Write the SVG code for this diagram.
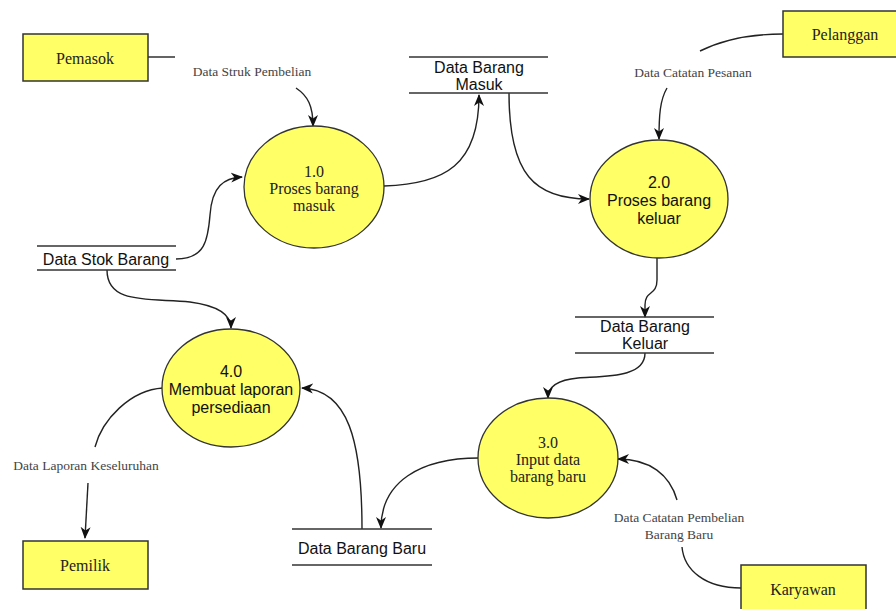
<svg xmlns="http://www.w3.org/2000/svg" width="896" height="609" viewBox="0 0 896 609">
<defs>
<style>
.ent{fill:#ffff66;stroke:#333;stroke-width:1.5}
.proc{fill:#ffff66;stroke:#333;stroke-width:1.3}
.store{stroke:#333;stroke-width:1.3}
.flow{fill:none;stroke:#222;stroke-width:1.4}
.serif{font-family:"Liberation Serif","Times New Roman",serif;fill:#222;text-anchor:middle;dominant-baseline:central}
.sans{font-family:"Liberation Sans",Arial,sans-serif;fill:#111;text-anchor:middle;dominant-baseline:central}
.lbl{font-family:"Liberation Serif","Times New Roman",serif;fill:#444;font-size:13.5px;text-anchor:middle;dominant-baseline:central}
</style>
<marker id="arr" markerWidth="12" markerHeight="12" refX="11" refY="6" orient="auto" markerUnits="userSpaceOnUse">
<path d="M0,1 L12,6 L0,11 L3.5,6 z" fill="#111"/>
</marker>
</defs>
<rect width="896" height="609" fill="#fff"/>

<g id="connectors">
<path class="flow" d="M148,57 L175,57"/>
<path class="flow" d="M296,88 C308,96 313,106 313,126" marker-end="url(#arr)"/>
<path class="flow" d="M384,186 C445,184 479,165 479,95" marker-end="url(#arr)"/>
<path class="flow" d="M509,93 C509,175 535,199 589,199" marker-end="url(#arr)"/>
<path class="flow" d="M783,34 C750,34 722,40 700,51"/>
<path class="flow" d="M667,88 C660,100 659,115 659,139" marker-end="url(#arr)"/>
<path class="flow" d="M657,258 L657,280 C657,296 645,290 645,305 L645,317" marker-end="url(#arr)"/>
<path class="flow" d="M645,353 C645,378 605,376 578,378 C556,380 548,388 548,398" marker-end="url(#arr)"/>
<path class="flow" d="M741,588 C705,588 684,570 682,547"/>
<path class="flow" d="M677,500 C670,475 650,459 618,459" marker-end="url(#arr)"/>
<path class="flow" d="M479,458 C420,458 381,482 381,528" marker-end="url(#arr)"/>
<path class="flow" d="M362,529 C362,440 348,390 302,388" marker-end="url(#arr)"/>
<path class="flow" d="M176,259 C205,259 208,240 210,215 C212,186 224,178 242,177" marker-end="url(#arr)"/>
<path class="flow" d="M107,270 C107,305 150,298 190,302 C220,306 231,315 231,328" marker-end="url(#arr)"/>
<path class="flow" d="M163,388 C130,390 102,420 95,447"/>
<path class="flow" d="M88,483 L85,538" marker-end="url(#arr)"/>
<text class="lbl" x="252" y="71">Data Struk Pembelian</text>
<text class="lbl" x="693" y="72">Data Catatan Pesanan</text>
<text class="lbl" x="679" y="517">Data Catatan Pembelian</text>
<text class="lbl" x="679" y="534">Barang Baru</text>
<text class="lbl" x="86" y="465">Data Laporan Keseluruhan</text>
</g>

<g id="pemasok">
<rect class="ent" x="23" y="34" width="125" height="47"/>
<text class="serif" x="85" y="58" font-size="16">Pemasok</text>
</g>
<g id="pelanggan">
<rect class="ent" x="783" y="11" width="125" height="46"/>
<text class="serif" x="845" y="34" font-size="16">Pelanggan</text>
</g>
<g id="pemilik">
<rect class="ent" x="23" y="541" width="125" height="48"/>
<text class="serif" x="85" y="565" font-size="16">Pemilik</text>
</g>
<g id="karyawan">
<rect class="ent" x="741" y="565" width="125" height="50"/>
<text class="serif" x="803" y="589" font-size="16">Karyawan</text>
</g>

<g id="p1">
<ellipse class="proc" cx="314" cy="187" rx="70" ry="61"/>
<text class="serif" x="314" y="171" font-size="16">1.0</text>
<text class="serif" x="314" y="188" font-size="16">Proses barang</text>
<text class="serif" x="314" y="205" font-size="16">masuk</text>
</g>
<g id="p2">
<ellipse class="proc" cx="659" cy="199" rx="69" ry="59"/>
<text class="sans" x="659" y="182" font-size="16">2.0</text>
<text class="sans" x="659" y="200" font-size="16">Proses barang</text>
<text class="sans" x="659" y="218" font-size="16">keluar</text>
</g>
<g id="p3">
<ellipse class="proc" cx="548" cy="458" rx="70" ry="60"/>
<text class="serif" x="548" y="442" font-size="16">3.0</text>
<text class="serif" x="548" y="459" font-size="16">Input data</text>
<text class="serif" x="548" y="476" font-size="16">barang baru</text>
</g>
<g id="p4">
<ellipse class="proc" cx="231" cy="388" rx="69" ry="59"/>
<text class="sans" x="231" y="371" font-size="16">4.0</text>
<text class="sans" x="231" y="389" font-size="16">Membuat laporan</text>
<text class="sans" x="231" y="407" font-size="16">persediaan</text>
</g>

<g id="ds-masuk">
<line class="store" x1="409" y1="57" x2="548" y2="57"/>
<line class="store" x1="409" y1="93" x2="548" y2="93"/>
<text class="sans" x="479" y="67" font-size="16">Data Barang</text>
<text class="sans" x="479" y="84" font-size="16">Masuk</text>
</g>
<g id="ds-stok">
<line class="store" x1="37" y1="246" x2="176" y2="246"/>
<line class="store" x1="37" y1="270" x2="176" y2="270"/>
<text class="sans" x="106" y="259" font-size="16">Data Stok Barang</text>
</g>
<g id="ds-keluar">
<line class="store" x1="575" y1="317" x2="714" y2="317"/>
<line class="store" x1="575" y1="353" x2="714" y2="353"/>
<text class="sans" x="645" y="326" font-size="16">Data Barang</text>
<text class="sans" x="645" y="343" font-size="16">Keluar</text>
</g>
<g id="ds-baru">
<line class="store" x1="292" y1="529" x2="432" y2="529"/>
<line class="store" x1="292" y1="565" x2="432" y2="565"/>
<text class="sans" x="362" y="548" font-size="16">Data Barang Baru</text>
</g>
</svg>
